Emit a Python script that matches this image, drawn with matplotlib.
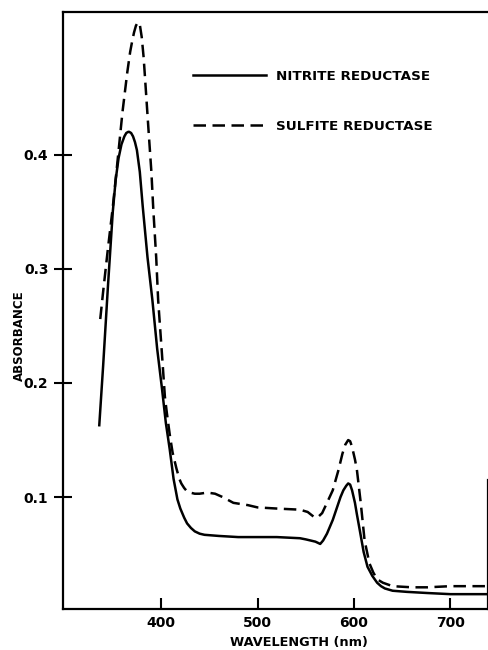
import matplotlib
matplotlib.use('Agg')
import matplotlib.pyplot as plt

# absorption spectra, wavelength in nm
nitrite_nm = [336, 340, 345, 350, 353, 356, 359, 362, 364, 366, 367, 369, 371, 373,
              375, 378, 381, 386, 391, 396, 401, 405, 409, 413, 417, 420, 424, 427,
              431, 435, 440, 445, 460, 480, 500, 520, 544, 550, 555, 560, 565, 568,
              572, 578, 582, 586, 589, 592, 594, 596, 598, 601, 603, 606, 610, 614,
              619, 624, 628, 632, 640, 655, 676, 700, 739]
nitrite_abs = [0.163, 0.215, 0.285, 0.350, 0.378, 0.397, 0.409, 0.416, 0.419, 0.420,
               0.420, 0.419, 0.416, 0.411, 0.404, 0.385, 0.355, 0.310, 0.273, 0.230,
               0.195, 0.165, 0.142, 0.116, 0.098, 0.090, 0.082, 0.077, 0.073, 0.070,
               0.068, 0.067, 0.066, 0.065, 0.065, 0.065, 0.064, 0.063, 0.062, 0.061,
               0.059, 0.062, 0.068, 0.080, 0.090, 0.100, 0.106, 0.110, 0.112, 0.111,
               0.106, 0.095, 0.085, 0.071, 0.052, 0.039, 0.031, 0.025, 0.022, 0.020,
               0.018, 0.017, 0.016, 0.015, 0.015]

sulfite_nm = [337, 340, 345, 350, 355, 360, 365, 368, 370, 372, 374, 376, 378, 380,
              382, 384, 387, 390, 392, 395, 397, 401, 404, 406, 409, 412, 416, 419,
              421, 424, 427, 430, 435, 440, 448, 456, 464, 475, 490, 500, 520, 544,
              552, 558, 562, 567, 572, 578, 584, 588, 591, 594, 596, 598, 601, 603,
              607, 611, 616, 620, 624, 630, 640, 660, 676, 700, 720, 739]
sulfite_abs = [0.256, 0.280, 0.318, 0.354, 0.395, 0.437, 0.472, 0.490, 0.499, 0.507,
               0.513, 0.516, 0.514, 0.503, 0.485, 0.460, 0.422, 0.385, 0.352, 0.310,
               0.273, 0.225, 0.188, 0.174, 0.155, 0.139, 0.125, 0.116, 0.112, 0.108,
               0.105, 0.104, 0.103, 0.103, 0.104, 0.103, 0.100, 0.095, 0.093, 0.091,
               0.090, 0.089, 0.087, 0.083, 0.082, 0.086, 0.095, 0.106, 0.124, 0.138,
               0.146, 0.150, 0.149, 0.144, 0.133, 0.124, 0.095, 0.062, 0.042, 0.034,
               0.028, 0.025, 0.022, 0.021, 0.021, 0.022, 0.022, 0.022]

xticks = [400, 500, 600, 700]
yticks = [0.1, 0.2, 0.3, 0.4]
ytick_labels = ['0.1', '0.2', '0.3', '0.4']

plt.rcParams['font.family'] = 'DejaVu Sans'
plt.rcParams['font.weight'] = 'bold'

fig = plt.figure(figsize=(4.89, 6.5), dpi=100)
ax = fig.add_axes([63 / 489, 41 / 650, 425 / 489, 597 / 650])

ax.plot(nitrite_nm, nitrite_abs, color='black', lw=1.8, label='NITRITE REDUCTASE')
ax.plot(sulfite_nm, sulfite_abs, color='black', lw=1.8, dashes=(5, 2.6),
        label='SULFITE REDUCTASE')

ax.set_xlim(298.4, 738.9)
ax.set_ylim(0.002, 0.525)
ax.set_xticks(xticks)
ax.set_yticks(yticks)
ax.set_yticklabels(ytick_labels)
ax.tick_params(axis='x', direction='in', length=8, width=1.5, labelsize=10, pad=5)
ax.tick_params(axis='y', direction='inout', length=13, width=1.5, labelsize=10, pad=4)

for side in ['left', 'bottom', 'top', 'right']:
    ax.spines[side].set_linewidth(1.6)
ax.spines['right'].set_bounds(0.002, 0.115)

ax.set_xlabel('WAVELENGTH (nm)', fontsize=9.3, fontweight='bold')
ax.set_ylabel('ABSORBANCE', fontsize=8.5, fontweight='bold')
ax.xaxis.set_label_coords(0.555, -0.045)
ax.yaxis.set_label_coords(-0.088, 0.457)

ax.legend(loc='upper left', bbox_to_anchor=(130 / 425, 1 - 58 / 597), frameon=False,
          fontsize=9.7, handlelength=5.4, handletextpad=0.75, labelspacing=2.75,
          borderpad=0, borderaxespad=0)

plt.savefig('out.png', dpi=100)
